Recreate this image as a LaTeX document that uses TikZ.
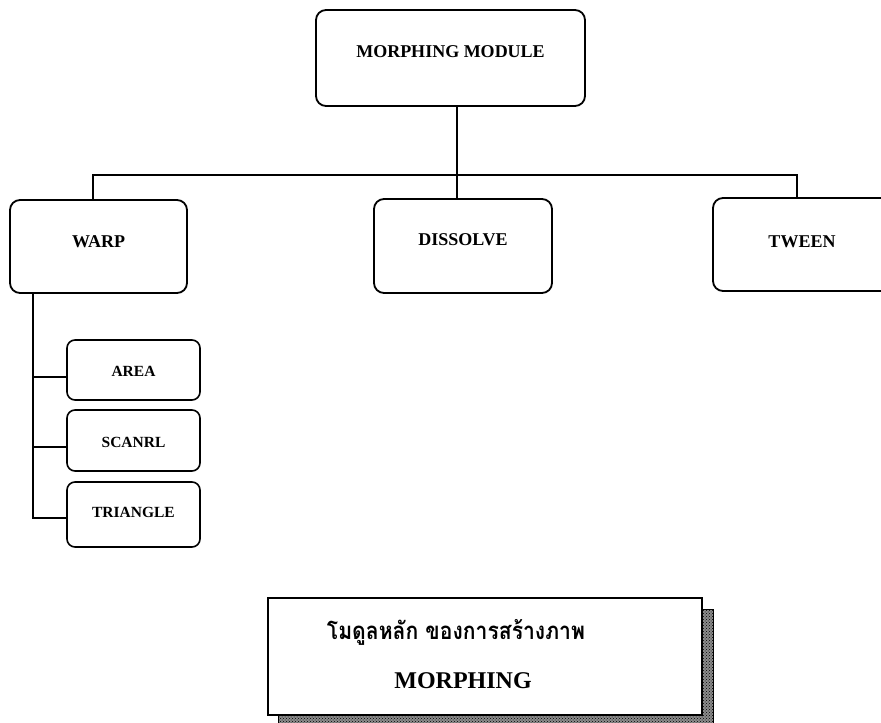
\documentclass[tikz,border=0pt]{standalone}
\usepackage{fontspec}
\setmainfont{Liberation Serif}
\newfontfamily\thaifont[Script=Thai]{Loma}
\usetikzlibrary{positioning,patterns}

\tikzset{
  bigbox/.style={draw, line width=1.8pt, rounded corners=10pt, minimum width=177pt, minimum height=93pt, inner sep=0pt},
  smallbox/.style={draw, line width=1.6pt, rounded corners=8pt, minimum width=133pt, minimum height=61pt, inner sep=0pt},
  bigtext/.style={font=\fontsize{18}{20}\selectfont\bfseries},
  smalltext/.style={font=\fontsize{15.5}{17}\selectfont\bfseries},
  link/.style={line width=1.8pt}
}

\begin{document}
\begin{tikzpicture}[x=1pt, y=-1pt]
    % Page frame
    \useasboundingbox (0,0) rectangle (881,723);
    \clip (0,0) rectangle (881,723);

    % Draw the top module
    \node[bigbox, minimum width=269pt, minimum height=96pt] (morph) at (450.5,58) {};
    \node[bigtext] (morph-t) at ([yshift=6pt]morph.center) {MORPHING MODULE};

    % Draw the three main parts
    \node[bigbox] (warp) at (98.5,246.5) {};
    \node[bigtext] (warp-t) at ([yshift=5pt]warp.center) {WARP};
    \node[bigbox, minimum width=178pt, minimum height=94pt] (dissolve) at (463,246) {};
    \node[bigtext] (dissolve-t) at ([yshift=6pt]dissolve.center) {DISSOLVE};
    \node[bigbox, minimum width=178pt] (tween) at (802,244.5) {};
    \node[bigtext] (tween-t) at ([yshift=3pt]tween.center) {TWEEN};

    % Connect them through the bus
    \coordinate (stem) at (457,106);
    \coordinate (bus) at (457,175);
    \draw[link] (stem) -- (stem |- dissolve.north);
    \draw[link] ([xshift=-5.5pt]warp.north) |- (bus) -| ([xshift=-5pt]tween.north);

    % Draw the warp methods
    \node[smallbox, minimum height=60pt] (area) at (133.5,370) {};
    \node[smalltext] (area-t) at ([yshift=-1pt]area.center) {AREA};
    \node[smallbox] (scanrl) at (133.5,440.5) {};
    \node[smalltext] (scanrl-t) at ([yshift=-1.5pt]scanrl.center) {SCANRL};
    \node[smallbox, minimum height=65pt] (triangle) at (133.5,514.5) {};
    \node[smalltext] (triangle-t) at ([yshift=2.5pt]triangle.center) {TRIANGLE};

    % Hang them from the warp box
    \coordinate (spine) at (33,293);
    \coordinate (area-in) at ([yshift=-7pt]area.west);
    \coordinate (scanrl-in) at ([yshift=-6.5pt]scanrl.west);
    \coordinate (triangle-in) at ([yshift=-3.5pt]triangle.west);
    \draw[link] (spine) |- (triangle-in);
    \draw[link] (area-in) -- (spine |- area-in);
    \draw[link] (scanrl-in) -- (spine |- scanrl-in);

    % Caption with its shadow
    \node[draw, line width=0.6pt, preaction={fill=black!45}, pattern=crosshatch dots, minimum width=435pt, minimum height=117pt, inner sep=0pt] (shadow) at (495.5,667.5) {};
    \node[draw, fill=white, line width=1.8pt, minimum width=434pt, minimum height=117pt, inner sep=0pt] (caption) at (485,656.5) {};
    \node[font=\fontsize{24}{26}\selectfont\bfseries\thaifont] (caption-th) at (456,632) {\scalebox{0.88}[1]{โมดูลหลัก ของการสร้างภาพ}};
    \node[font=\fontsize{24}{26}\selectfont\bfseries] (caption-en) at (463,681) {MORPHING};
\end{tikzpicture}
\end{document}
